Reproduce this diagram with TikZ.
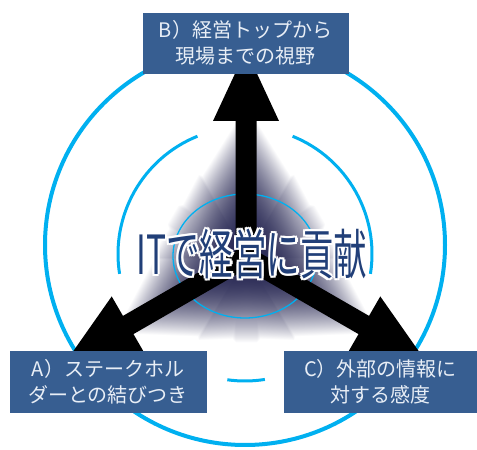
\documentclass[tikz,border=0pt]{standalone}
\usepackage{fontspec}
\usepackage{graphicx}
\newfontfamily\jpfont{Noto Sans CJK JP}
\definecolor{cyanc}{RGB}{0,176,240}
\definecolor{boxc}{RGB}{55,94,145}
\definecolor{lblc}{RGB}{232,238,246}
\definecolor{navyc}{RGB}{33,63,120}
% soft glow around the arrows: intensity falls with distance from the centre and from the shafts
\pgfdeclarefunctionalshading{glowshade}{\pgfpoint{-150bp}{-150bp}}{\pgfpoint{150bp}{150bp}}{}{
  1 index 0 mul 1 index 1 mul add
  2 index 1 mul 2 index 0 mul add abs
  10.5 sub dup 0 lt {pop 0} if
  exch dup 0 lt {neg 85 div exch 85 div add} {135 div exch 85 div add} ifelse
  1 exch sub
  3 1 roll
  1 index -0.866 mul 1 index -0.5 mul add
  2 index 0.5 mul 2 index -0.866 mul add abs
  10.5 sub dup 0 lt {pop 0} if
  exch dup 0 lt {neg 85 div exch 85 div add} {135 div exch 85 div add} ifelse
  1 exch sub
  3 1 roll
  1 index 0.866 mul 1 index -0.5 mul add
  2 index 0.5 mul 2 index 0.866 mul add abs
  10.5 sub dup 0 lt {pop 0} if
  exch dup 0 lt {neg 85 div exch 85 div add} {135 div exch 85 div add} ifelse
  1 exch sub
  3 1 roll
  pop pop
  2 copy lt {exch} if pop
  2 copy lt {exch} if pop
  dup 0 lt {pop 0} if
  dup 1 gt {pop 1} if
  1 exch sub dup mul 1 exch sub
  dup 0.835 mul 1 exch sub exch
  dup 0.835 mul 1 exch sub exch
  0.667 mul 1 exch sub
}
\begin{document}
\begin{tikzpicture}[x=1pt,y=1pt,
  ring/.style={draw=cyanc},
  lbl/.style={fill=boxc, draw=boxc, text=lblc, font=\jpfont\fontsize{20}{26}\selectfont,
    align=center, minimum height=61pt, inner sep=0pt},
  ttl/.style={font=\jpfont\fontsize{54}{54}\selectfont, inner sep=0pt},
]
\useasboundingbox (0,0) rectangle (477,450);
\coordinate (ctr) at (246,193);
% glow
\node[inner sep=0pt, outer sep=0pt] (glow) at (ctr) {\pgfuseshading{glowshade}};
% outer ring
\draw[ring, line width=4pt] (245,205) circle (200);
% middle ring (visible parts)
\draw[ring, line width=3pt] ([shift={(112:127)}]245,196) arc[start angle=112, end angle=189, radius=127];
\draw[ring, line width=3pt] ([shift={(-9:127)}]245,196) arc[start angle=-9, end angle=68, radius=127];
\draw[ring, line width=3pt] ([shift={(262:127)}]245,196) arc[start angle=262, end angle=279, radius=127];
% inner ring
\draw[ring, line width=1.3pt] (245,194) ellipse[x radius=72, y radius=62];
% arrows
\foreach \a in {90,210,330} {
  \fill[black, shift={(ctr)}, rotate=\a] (0,-10.5) -- (136,-10.5) -- (136,-33) -- (207,0)
    -- (136,33) -- (136,10.5) -- (0,10.5) -- cycle;
}
% title with white outline
\foreach \ang [count=\i] in {0,45,...,315} {
  \node[ttl, text=white, shift={(\ang:2.2)}] (tout\i) at (252,196) {\scalebox{0.62}[1]{ITで経営に貢献}};
}
\node[ttl, text=navyc] (title) at (252,196) {\scalebox{0.62}[1]{ITで経営に貢献}};
% label boxes
\node[lbl, minimum width=205pt, minimum height=60pt] (B) at (245.5,407) {B）経営トップから\\現場までの視野};
\node[lbl, minimum width=196pt] (A) at (108,68.5) {A）ステークホル\\ダーとの結びつき};
\node[lbl, minimum width=193pt] (C) at (380.5,68.5) {C）外部の情報に\\対する感度};
\end{tikzpicture}
\end{document}
